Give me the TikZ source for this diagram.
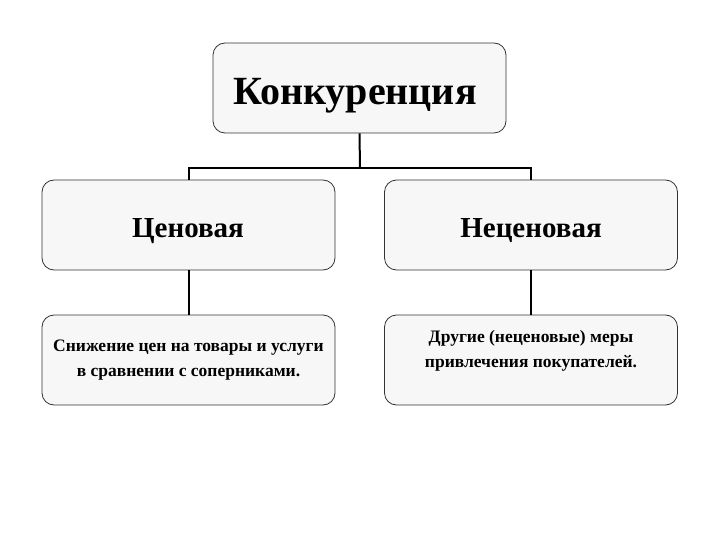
\documentclass[tikz,border=0pt]{standalone}
\usepackage{fontspec}
\setmainfont{Liberation Serif}
\newfontfamily\tbf{Liberation Serif Bold}
\begin{document}
\begin{tikzpicture}[x=1pt,y=-1pt,
  box/.style={draw=black!80,fill=gray!6,rounded corners=12pt,line width=0.8pt,minimum width=293pt,minimum height=90pt},
  lbl/.style={align=center,inner sep=0pt},
  conn/.style={line width=2pt}]
\useasboundingbox (0,0) rectangle (720,540);
\node[box] (top) at (359.5,88) {};
\node[box] (l1) at (188.5,225) {};
\node[box] (r1) at (531,225) {};
\node[box] (l2) at (188.5,360) {};
\node[box] (r2) at (531,360) {};
\node[lbl,font=\tbf\fontsize{40}{40}\selectfont,anchor=base] at (355,105) {Конкуренция};
\node[lbl,font=\tbf\fontsize{29}{30}\selectfont,anchor=base] at (188,237) {Ценовая};
\node[lbl,font=\tbf\fontsize{29}{30}\selectfont,anchor=base] at (531,237) {Неценовая};
\node[lbl,font=\tbf\fontsize{17.5}{25}\selectfont,anchor=north] at (188.5,340) {Снижение цен на товары и услуги\\в сравнении с соперниками.};
\node[lbl,font=\tbf\fontsize{17.5}{25}\selectfont,anchor=north] at (531,330) {Другие (неценовые) меры\\привлечения покупателей.};
\coordinate (hl) at (189,168);
\coordinate (hr) at (531,168);
\coordinate (hm) at (360,168);
\draw[conn] (top.south) -- (hm);
\draw[conn] (l1.north -| hl) -- (hl) -- (hr) -- (r1.north -| hr);
\draw[conn] (l1.south -| hl) -- (l2.north -| hl);
\draw[conn] (r1.south -| hr) -- (r2.north -| hr);
\end{tikzpicture}
\end{document}
